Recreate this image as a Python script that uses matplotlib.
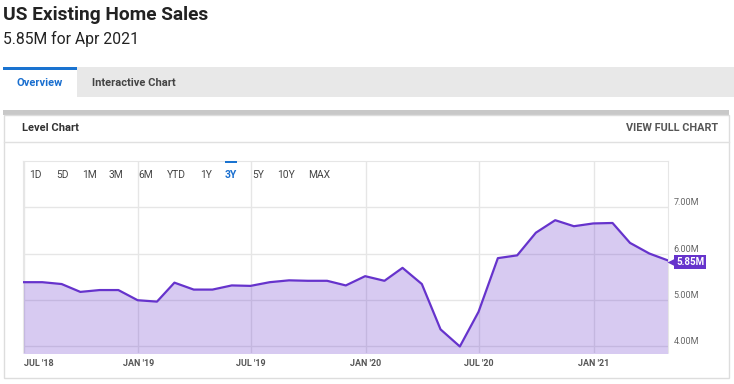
import numpy as np
import pandas as pd
import matplotlib
matplotlib.use("Agg")
import matplotlib.pyplot as plt
import matplotlib.transforms as mtransforms
from matplotlib.patches import Rectangle

plt.rcParams['font.family'] = ['Roboto', 'DejaVu Sans']

# monthly existing home sales, millions (SAAR), Jun 2018 .. Apr 2021
months = pd.period_range("2018-06", "2021-04", freq="M")
sales = [5.38, 5.38, 5.34, 5.17, 5.21, 5.21, 4.99,
         4.96, 5.37, 5.22, 5.22, 5.31, 5.30, 5.38, 5.42, 5.41, 5.41, 5.31, 5.51,
         5.41, 5.69, 5.34, 4.36, 3.99, 4.74, 5.90, 5.96, 6.45, 6.72, 6.59, 6.65,
         6.66, 6.23, 6.00, 5.85]
ytick_vals = [4, 5, 6, 7]
xtick_dates = ["2018-07-01", "2019-01-01", "2019-07-01", "2020-01-01", "2020-07-01", "2021-01-01"]
xtick_labels = ["JUL '18", "JAN '19", "JUL '19", "JAN '20", "JUL '20", "JAN '21"]
ranges = ["1D", "5D", "1M", "3M", "6M", "YTD", "1Y", "3Y", "5Y", "10Y", "MAX"]
range_x = [29, 56, 82, 109, 138, 167, 200, 225, 252, 277, 308]

W, H = 734, 384
purple = "#6633cc"
grid_c = "#e6e6e6"

fig = plt.figure(figsize=(W / 100, H / 100), dpi=100)

# page background in pixel coordinates
bg = fig.add_axes([0, 0, 1, 1], zorder=0)
bg.set_xlim(0, W)
bg.set_ylim(H, 0)
bg.axis("off")

bg.text(3, 15, "US Existing Home Sales", fontsize=13.8, fontweight="bold", color="#222222", va="center")
bg.text(3, 39, "5.85M for Apr 2021", fontsize=11.3, color="#222222", va="center")

# tabs
bg.add_patch(Rectangle((3, 67), W - 3, 30, fc="#e8e8e8", ec="none"))
bg.add_patch(Rectangle((3, 67), 74, 30, fc="white", ec="none"))
bg.add_patch(Rectangle((3, 67), 74, 3, fc="#1a73d0", ec="none"))
bg.text(40, 83, "Overview", fontsize=8, fontweight="bold", color="#1a6fcf", ha="center", va="center")
bg.text(92, 83, "Interactive Chart", fontsize=8, fontweight="bold", color="#444444", va="center")

# chart card
bg.add_patch(Rectangle((3, 110), 726, 5, fc="#c8c8c8", ec="none"))
bg.add_patch(Rectangle((3.5, 115), 725, 263, fc="white", ec="#dddddd", lw=1))
bg.plot([3.5, 728.5], [142, 142], color="#e0e0e0", lw=1)
bg.text(22, 128, "Level Chart", fontsize=8, fontweight="bold", color="#333333", va="center")
bg.text(718, 128, "VIEW FULL CHART", fontsize=7.8, fontweight="bold", color="#555555", va="center", ha="right")

# chart
left, right, top, bottom = 23, 668, 161, 352.5
ax = fig.add_axes([left / W, 1 - bottom / H, (right - left) / W, (bottom - top) / H], zorder=1)
x = months.to_timestamp(how="end").normalize()
ax.fill_between(x, sales, 3.0, color=purple, alpha=0.26, lw=0, zorder=2)
ax.plot(x, sales, color=purple, lw=1.6, zorder=3, solid_joinstyle="round")
ax.set_xlim(x[0], x[-1])
ax.set_ylim(3.86, 8.0)

ax.set_yticks(ytick_vals)
ax.yaxis.tick_right()
ax.set_yticklabels([f"{v:.2f}M" for v in ytick_vals])
ax.tick_params(axis="y", length=0, pad=4, labelsize=6.5, labelcolor="#666666")
for lab in ax.get_yticklabels():
    lab.set_verticalalignment("bottom")

ax.set_xticks(pd.to_datetime(xtick_dates))
ax.set_xticklabels(xtick_labels)
ax.tick_params(axis="x", length=0, pad=5, labelsize=6.5, labelcolor="#555555")
for lab in ax.get_xticklabels():
    lab.set_fontweight("bold")
ax.get_xticklabels()[0].set_horizontalalignment("left")

ax.grid(True, color=grid_c, lw=1, zorder=1)
ax.set_axisbelow(True)
for s in ["left", "right", "top"]:
    ax.spines[s].set_color(grid_c)
ax.spines["bottom"].set_visible(False)

# last value flag
off = mtransforms.offset_copy(ax.transData, fig=fig, x=3.5, y=-1.5, units="dots")
ax.plot(x[-1], sales[-1], marker="<", ms=6, color=purple, mec="none", transform=off, clip_on=False, zorder=5)
off2 = mtransforms.offset_copy(ax.transData, fig=fig, x=8, y=-1.5, units="dots")
ax.text(x[-1], sales[-1], f"{sales[-1]:.2f}M", transform=off2, fontsize=7, fontweight="bold", color="white",
        va="center", ha="left", clip_on=False, zorder=6,
        bbox=dict(boxstyle="square,pad=0.22", fc=purple, ec="none"))

# range selector on top of the chart
fg = fig.add_axes([0, 0, 1, 1], zorder=4)
fg.set_xlim(0, W)
fg.set_ylim(H, 0)
fg.axis("off")
fg.patch.set_alpha(0)
for lab, xp in zip(ranges, range_x):
    c = "#1a6fcf" if lab == "3Y" else "#444444"
    fg.text(xp, 175.5, lab, fontsize=7.4, color=c, fontweight="bold" if lab == "3Y" else "normal", va="center")
fg.add_patch(Rectangle((225, 160.5), 11.5, 2.5, fc="#1a73d0", ec="none"))

fig.savefig("out.png", dpi=100)
